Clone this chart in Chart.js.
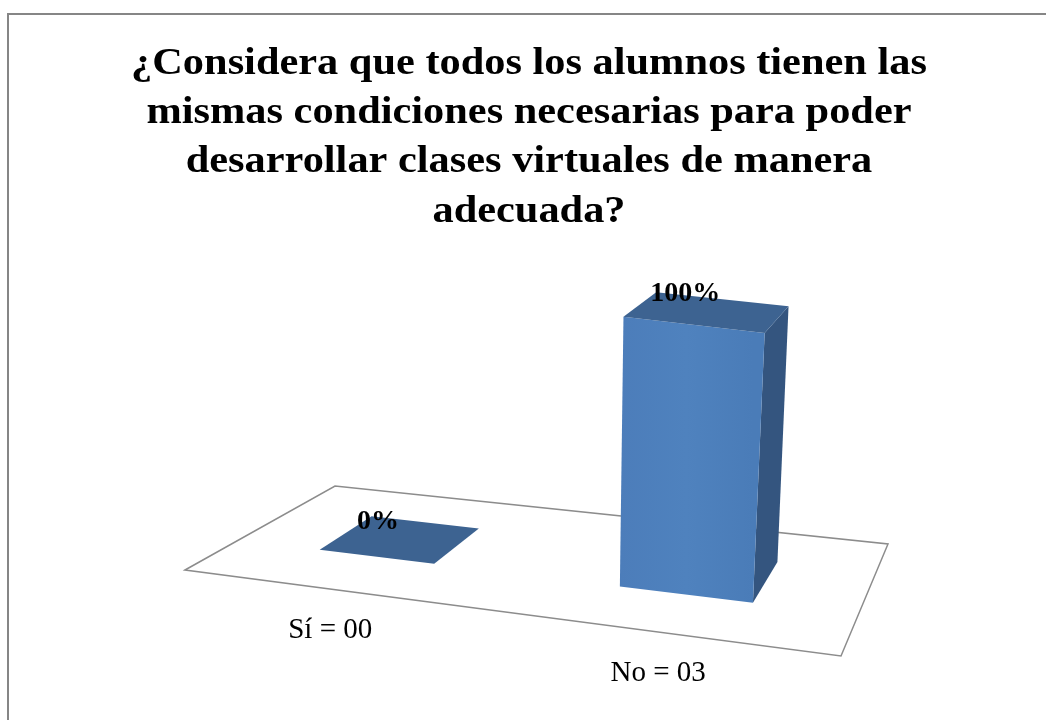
<!DOCTYPE html>
<html>
<head>
<meta charset="utf-8">
<script src="https://cdn.jsdelivr.net/npm/chart.js@4"></script>
<style>
  body { margin: 0; background: #fff; }
  #wrap { position: relative; width: 1046px; height: 720px; overflow: hidden; }
  #frame { position: absolute; left: 7px; top: 13px; width: 1100px; height: 800px;
           border-left: 2px solid #868686; border-top: 2px solid #868686; }
  canvas { position: absolute; left: 0; top: 0; }
</style>
</head>
<body>
<div id="wrap">
  <div id="frame"></div>
  <canvas id="chart" width="1046" height="720"></canvas>
</div>
<script>
const categories = ['Sí = 00', 'No = 03'];
const values = [0, 100]; // percent
const valueLabels = ['0%', '100%'];
const titleLines = [
    '¿Considera que todos los alumnos tienen las',
    'mismas condiciones necesarias para poder',
    'desarrollar clases virtuales de manera',
    'adecuada?'
];

// floor of the 3D plot (front-left, front-right, back-left, back-right)
const floor = { fl: [185, 570], fr: [841, 656], bl: [335, 486], br: [888, 544] };
const depthFront = 0.36;
const depthBack = 0.74;

function floorPt(u, v) {
    const fx = floor.fl[0] + u * (floor.fr[0] - floor.fl[0]);
    const fy = floor.fl[1] + u * (floor.fr[1] - floor.fl[1]);
    const bx = floor.bl[0] + u * (floor.br[0] - floor.bl[0]);
    const by = floor.bl[1] + u * (floor.br[1] - floor.bl[1]);
    return [fx + v * (bx - fx), fy + v * (by - fy)];
}

// chart-area fraction -> position across the floor (a bit of perspective)
function floorU(f) {
    return f - 0.038 + 0.15 * (f - 0.5) * (f - 0.5);
}

// f = fraction across chart area, v = depth, frac = value fraction of the y scale
function proj(f, v, frac) {
    const u = floorU(f);
    const p = floorPt(u, v);
    const h = frac * (283 - 36.8 * v);
    const dx = h * (u - 0.52) * 0.14;
    return [p[0] + dx, p[1] - h];
}

function poly(ctx, pts, fill) {
    ctx.beginPath();
    ctx.moveTo(pts[0][0], pts[0][1]);
    for (let i = 1; i < pts.length; i++) ctx.lineTo(pts[i][0], pts[i][1]);
    ctx.closePath();
    ctx.fillStyle = fill;
    ctx.fill();
}

// title in a slightly wide Times, like the original
const wideTitle = {
    id: 'wideTitle',
    afterDraw(chart) {
        const ctx = chart.ctx;
        const stretch = 1.13;
        ctx.save();
        ctx.scale(stretch, 1);
        ctx.fillStyle = '#000';
        ctx.font = 'bold 37.5px "Liberation Serif", "Times New Roman", serif';
        ctx.textAlign = 'center';
        ctx.textBaseline = 'alphabetic';
        titleLines.forEach((line, i) => {
            ctx.fillText(line, 529 / stretch, 74 + i * 49.2);
        });
        ctx.restore();
    }
};

const bars3d = {
    id: 'bars3d',
    beforeDatasetsDraw(chart) {
        const ctx = chart.ctx;
        const area = chart.chartArea;
        const yScale = chart.scales.y;
        const base = yScale.getPixelForValue(0);
        const full = base - yScale.getPixelForValue(100);
        const meta = chart.getDatasetMeta(0);

        ctx.save();
        // floor
        ctx.beginPath();
        ctx.moveTo(floor.fl[0], floor.fl[1]);
        ctx.lineTo(floor.bl[0], floor.bl[1]);
        ctx.lineTo(floor.br[0], floor.br[1]);
        ctx.lineTo(floor.fr[0], floor.fr[1]);
        ctx.closePath();
        ctx.fillStyle = '#fff';
        ctx.fill();
        ctx.strokeStyle = '#8c8c8c';
        ctx.lineWidth = 1.5;
        ctx.stroke();

        meta.data.forEach((bar, i) => {
            const p = bar.getProps(['x', 'y', 'width'], true);
            const f0 = (p.x - p.width / 2 - area.left) / area.width;
            const f1 = (p.x + p.width / 2 - area.left) / area.width;
            const fc = (p.x - area.left) / area.width;
            const t = (base - p.y) / full;
            const v0 = depthFront, v1 = depthBack;

            if (t > 0) {
                poly(ctx, [proj(f1, v0, 0), proj(f1, v1, 0), proj(f1, v1, t), proj(f1, v0, t)], '#34557f');
                const grad = ctx.createLinearGradient(proj(f0, v0, 0)[0], 0, proj(f1, v0, 0)[0], 0);
                grad.addColorStop(0, '#4c7dba');
                grad.addColorStop(0.5, '#4f82be');
                grad.addColorStop(1, '#4a7cb8');
                poly(ctx, [proj(f0, v0, 0), proj(f1, v0, 0), proj(f1, v0, t), proj(f0, v0, t)], grad);
            }
            const top = [proj(f0, v0, t), proj(f1, v0, t), proj(f1, v1, t), proj(f0, v1, t)];
            poly(ctx, top, '#3d6391');

            // value label
            const cx = top.reduce((s, q) => s + q[0], 0) / 4;
            const cy = top.reduce((s, q) => s + q[1], 0) / 4;
            ctx.fillStyle = '#000';
            ctx.font = 'bold 28px "Liberation Serif", "Times New Roman", serif';
            ctx.textAlign = 'center';
            ctx.textBaseline = 'middle';
            ctx.fillText(valueLabels[i], cx - 23, cy - 18);

            // category label
            const lp = floorPt(floorU(fc), 0);
            ctx.font = '29px "Liberation Serif", "Times New Roman", serif';
            ctx.fillText(chart.data.labels[i], lp[0], lp[1] + 41);
        });
        ctx.restore();
        return false;
    }
};

new Chart(document.getElementById('chart'), {
    type: 'bar',
    data: {
        labels: categories,
        datasets: [{
            data: values,
            backgroundColor: '#4f81bd',
            categoryPercentage: 1,
            barPercentage: 0.4
        }]
    },
    options: {
        responsive: false,
        animation: false,
        layout: { padding: { left: 10, right: 0, top: 250, bottom: 20 } },
        plugins: {
            legend: { display: false },
            tooltip: { enabled: false },
            title: { display: false }
        },
        scales: {
            x: { display: false },
            y: { display: false, min: 0, max: 100 }
        }
    },
    plugins: [bars3d, wideTitle]
});
</script>
</body>
</html>
